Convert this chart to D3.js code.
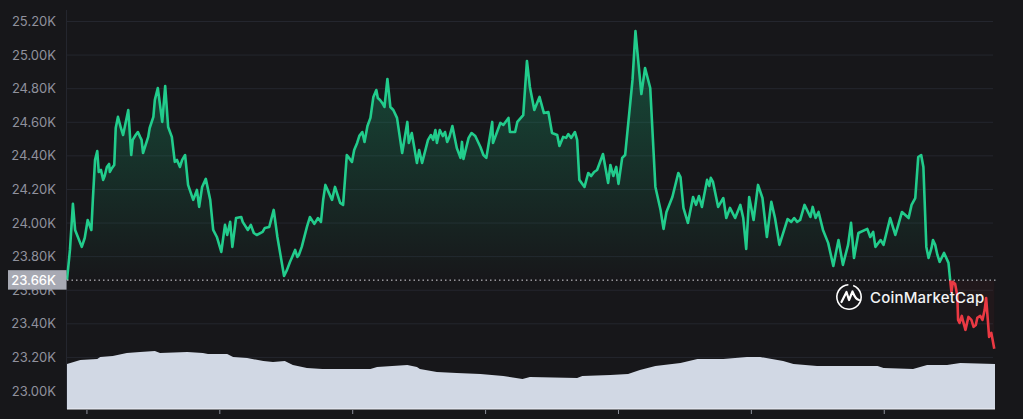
<!DOCTYPE html>
<html>
<head>
<meta charset="utf-8">
<script src="https://cdn.jsdelivr.net/npm/d3@7"></script>
<style>
  html, body { margin: 0; padding: 0; background: #17171a; }
  svg { display: block; }
  text { font-family: Inter, "Noto Sans", sans-serif; }
</style>
</head>
<body>
<svg id="svg"></svg>
<script>
// values, minutes since the start of the window
const priceMinutes = [0,4,8,11,20,24,28,33,35,38,41,43,49,54,61,66,69,73,76,83,87,93,99,103,110,117,123,129,133,137,142,146,153,160,164,171,176,179,183,188,194,198,203,209,214,224,229,236,245,257,274,280,285,294,305,312,318,325,329,344,347,350,359,363,370,374,379,386,393,400,407,415,419,427,430,434,438,447,454,461,463,467,474,477,481,489,499,501,505,515,522,528,533,535,537,544,553,560,564,568,576,577,587,598,600,607,610,618,623,627,633,640,646,652,657,664,667,672,688,691,694,701,706,718,726,733,736,740,744,747,752,756,766,770,772,778,783,790,797,804,808,812,820,828,831,835,841,848,860,867,875,882,889,893,898,905,912,916,920,924,930,936,942,948,954,959,965,976,993,999,1007,1010,1014,1018,1024,1031,1038,1045,1051,1058,1062,1066,1072,1084,1095,1106,1115,1122,1131,1140,1149,1153,1157,1160,1164,1167,1176,1182,1188,1194,1196,1198,1200,1203,1206,1207,1209,1217,1221,1228,1233,1240,1245,1249,1252,1256];
const priceValues = [23.661,23.840,24.114,23.959,23.858,23.911,24.018,23.959,24.138,24.376,24.429,24.304,24.257,24.334,24.328,24.566,24.632,24.566,24.524,24.673,24.405,24.524,24.513,24.417,24.513,24.632,24.804,24.602,24.816,24.572,24.513,24.364,24.334,24.405,24.227,24.138,24.197,24.096,24.215,24.263,24.138,23.959,23.917,23.828,23.989,23.858,24.030,24.036,23.959,23.929,23.977,24.078,23.917,23.685,23.798,23.798,23.858,23.977,24.036,24.007,24.138,24.227,24.138,24.215,24.120,24.108,24.405,24.364,24.477,24.542,24.578,24.751,24.792,24.715,24.691,24.858,24.691,24.626,24.417,24.602,24.477,24.536,24.358,24.435,24.358,24.495,24.554,24.477,24.554,24.483,24.578,24.447,24.388,24.483,24.382,24.507,24.518,24.453,24.405,24.388,24.602,24.477,24.596,24.626,24.542,24.542,24.602,24.643,24.965,24.810,24.673,24.751,24.655,24.661,24.536,24.524,24.459,24.513,24.542,24.495,24.257,24.215,24.298,24.316,24.411,24.239,24.346,24.280,24.334,24.233,24.388,24.405,24.852,25.143,25.048,24.768,24.923,24.804,24.215,24.078,23.965,24.066,24.155,24.298,24.274,24.090,24.001,24.155,24.096,24.257,24.245,24.096,24.149,24.030,24.090,24.030,24.108,24.030,23.846,24.155,24.018,24.227,24.149,23.917,24.126,24.030,23.870,24.024,24.018,24.108,24.036,24.096,24.030,24.066,23.959,23.882,23.745,23.899,23.751,23.870,24.001,23.792,23.941,23.965,23.858,23.870,24.030,23.929,24.066,24.030,24.149,24.393,24.405,24.334,23.858,23.792,23.870,23.769,23.822,23.763,23.673,23.590,23.650,23.637,23.566,23.423,23.405,23.364,23.441,23.382,23.435,23.423,23.554,23.322,23.346,23.251];

// second pass over the picture, the smaller wiggles between the points above
const wiggleMinutes = [46,51,57,58,64,89,96,101,112,119,149,156,217,221,238,249,253,265,268,298,302,309,314,335,340,382,389,396,403,411,421,424,442,493,496,509,512,518,548,591,594,676,679,683,710,714,852,856,870,872,981,985,989,1088,1092,1102,1126,1144,1171,1173,1179,1212,1214,1225,1231,1237,1243];
const wiggleValues = [24.316,24.280,24.352,24.304,24.346,24.495,24.542,24.495,24.566,24.733,24.376,24.376,23.929,24.007,24.007,23.989,23.941,23.947,23.971,23.721,23.768,23.840,23.810,23.995,24.030,24.388,24.435,24.519,24.483,24.626,24.745,24.733,24.673,24.524,24.495,24.518,24.542,24.513,24.536,24.584,24.602,24.507,24.530,24.507,24.280,24.304,24.108,24.161,24.221,24.269,24.007,24.030,24.007,23.917,23.947,23.899,23.989,24.108,23.852,23.899,23.810,23.447,23.411,23.423,23.393,23.447,23.483];

const volumeMinutes = [0,18,41,45,62,81,99,119,126,163,184,191,217,225,244,266,279,295,306,325,346,370,411,420,461,474,478,501,528,560,591,617,627,691,698,736,760,776,797,831,854,889,921,939,970,984,1016,1098,1106,1146,1165,1192,1210,1257];
const volumeValues = [22.5,24.5,25,26,26.5,28,28.5,29,28,28.5,28,27.5,27.5,26,25.5,24,23.5,24,22,20.5,20,20,20,21,22,21,20,18.5,18,17.5,16.5,15,16,15.5,16.5,17,17.5,19.5,21.5,23,25,25,26,26,24,22.5,21.5,21.5,20.5,20,22,22,23,22.5];

const yTicks = [23.0,23.2,23.4,23.6,23.8,24.0,24.2,24.4,24.6,24.8,25.0,25.2];
const timeTicks = [27,207,387,567,747,927,1107];
const basePrice = 23.66;
const baseLabel = "23.66K";
const brandName = "CoinMarketCap";

const w = 1023;
const h = 419;

const svg = d3.select("#svg")
  .attr("width", w)
  .attr("height", h);

const xScale = d3.scaleLinear().domain([0, 1257]).range([67, 995]);
const yScale = d3.scaleLinear().domain([23, 25.2]).range([391, 21.5]);
const volScale = d3.scaleLinear().domain([0, 30]).range([409, 349]);

const price = priceMinutes.map((m, i) => ({ m: m, v: priceValues[i] }))
  .concat(wiggleMinutes.map((m, i) => ({ m: m, v: wiggleValues[i] })))
  .sort((a, b) => d3.ascending(a.m, b.m));
const volume = volumeMinutes.map((m, i) => ({ m: m, v: volumeValues[i] }));
const baseY = yScale(basePrice);

const defs = svg.append("defs");

const fade = defs.append("linearGradient")
  .attr("id", "fade")
  .attr("gradientUnits", "userSpaceOnUse")
  .attr("x1", 0).attr("x2", 0)
  .attr("y1", 90).attr("y2", baseY);
fade.append("stop").attr("offset", 0).attr("stop-color", "#16c784").attr("stop-opacity", 0.24);
fade.append("stop").attr("offset", 1).attr("stop-color", "#16c784").attr("stop-opacity", 0);

defs.append("clipPath").attr("id", "above").append("rect")
  .attr("x", 0).attr("y", 0).attr("width", w).attr("height", baseY);
defs.append("clipPath").attr("id", "below").append("rect")
  .attr("x", 0).attr("y", baseY).attr("width", w).attr("height", h - baseY);

// grid
svg.append("g").selectAll("line")
  .data(yTicks)
  .enter()
  .append("line")
  .attr("x1", 67)
  .attr("x2", 993)
  .attr("y1", d => yScale(d))
  .attr("y2", d => yScale(d))
  .attr("stroke", "#24262e")
  .attr("stroke-width", 1);

svg.append("line")
  .attr("x1", 66.5).attr("x2", 66.5)
  .attr("y1", 10).attr("y2", 409)
  .attr("stroke", "#24262e");

// y labels
svg.append("g").selectAll("text")
  .data(yTicks)
  .enter()
  .append("text")
  .attr("x", 56)
  .attr("y", d => yScale(d))
  .attr("dy", "0.35em")
  .attr("text-anchor", "end")
  .attr("font-size", 13)
  .attr("fill", "#90919d")
  .text(d => d3.format(".2f")(d) + "K");

// price area, green above the opening price
const area = d3.area()
  .x(d => xScale(d.m))
  .y0(baseY)
  .y1(d => yScale(d.v));

svg.append("path")
  .datum(price)
  .attr("clip-path", "url(#above)")
  .attr("fill", "url(#fade)")
  .attr("d", area);

svg.append("path")
  .datum(price)
  .attr("clip-path", "url(#below)")
  .attr("fill", "#ea3943")
  .attr("fill-opacity", 0.05)
  .attr("d", area);

// volume
const volArea = d3.area()
  .x(d => xScale(d.m))
  .y0(volScale(0))
  .y1(d => volScale(d.v));

svg.append("path")
  .datum(volume)
  .attr("fill", "#d1d8e4")
  .attr("d", volArea);

svg.append("line")
  .attr("x1", 67).attr("x2", 995)
  .attr("y1", 409).attr("y2", 409)
  .attr("stroke", "#eef1f6")
  .attr("stroke-width", 1);

// price line
const line = d3.line()
  .x(d => xScale(d.m))
  .y(d => yScale(d.v));

svg.append("path")
  .datum(price)
  .attr("clip-path", "url(#above)")
  .attr("fill", "none")
  .attr("stroke", "#22cc8c")
  .attr("stroke-width", 2.6)
  .attr("stroke-linejoin", "round")
  .attr("d", line);

svg.append("path")
  .datum(price)
  .attr("clip-path", "url(#below)")
  .attr("fill", "none")
  .attr("stroke", "#ea3943")
  .attr("stroke-width", 2.6)
  .attr("stroke-linejoin", "round")
  .attr("d", line);

// dotted opening price
svg.append("line")
  .attr("x1", 67).attr("x2", 996)
  .attr("y1", baseY).attr("y2", baseY)
  .attr("stroke", "#d8dae0")
  .attr("stroke-width", 1)
  .attr("stroke-dasharray", "1.5,3");

// x ticks
svg.append("g").selectAll("line")
  .data(timeTicks)
  .enter()
  .append("line")
  .attr("x1", d => xScale(d))
  .attr("x2", d => xScale(d))
  .attr("y1", 410)
  .attr("y2", 414)
  .attr("stroke", "#8d909b");

// opening price tag
svg.append("rect")
  .attr("x", 8)
  .attr("y", baseY - 10)
  .attr("width", 58.5)
  .attr("height", 19.5)
  .attr("fill", "#a7a9b3");

svg.append("text")
  .attr("x", 56)
  .attr("y", baseY)
  .attr("dy", "0.35em")
  .attr("text-anchor", "end")
  .attr("font-size", 13)
  .attr("font-weight", 500)
  .attr("fill", "#ffffff")
  .text(baseLabel);

// watermark
const mark = svg.append("g").attr("transform", "translate(849,297)");

mark.append("path")
  .attr("d", d3.arc()({ innerRadius: 11.4, outerRadius: 13, startAngle: 0.35, endAngle: 2.0 * Math.PI - 0.05 }))
  .attr("fill", "#ffffff");

mark.append("path")
  .attr("d", "M-7.5,5 L-2.5,-5 L0,3 L3.5,-5.5 C5,-2 6,2 10,3")
  .attr("fill", "none")
  .attr("stroke", "#ffffff")
  .attr("stroke-width", 2.2)
  .attr("stroke-linejoin", "round")
  .attr("stroke-linecap", "round");

svg.append("text")
  .attr("x", 870)
  .attr("y", 303)
  .attr("font-size", 15)
  .attr("font-weight", 500)
  .attr("letter-spacing", 0.2)
  .attr("fill", "#f2f3f5")
  .text(brandName);
</script>
</body>
</html>
